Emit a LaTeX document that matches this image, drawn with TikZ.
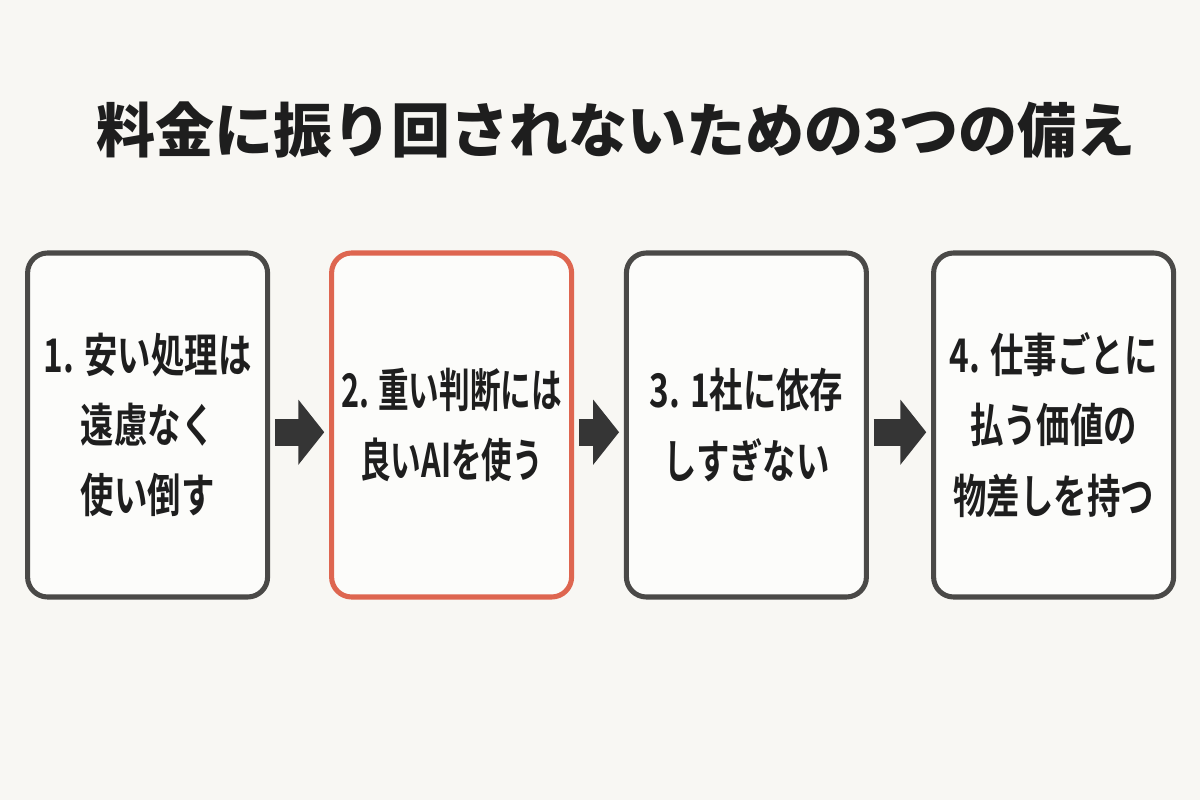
\documentclass[tikz,border=0pt]{standalone}
\usepackage{fontspec}
\usepackage{tikz}
\usepackage{xcolor}
\usetikzlibrary{arrows.meta}
\newfontfamily\titlefont{Noto Sans CJK JP}[UprightFont=* Black]
\newfontfamily\cardfont{Noto Sans CJK JP}[UprightFont=* Bold,FakeStretch=0.72]
\newfontfamily\hotfont{Noto Sans CJK JP}[UprightFont=* Bold,FakeStretch=0.66]
\definecolor{paper}{HTML}{F8F7F3}
\definecolor{frame}{HTML}{4A4947}
\definecolor{hot}{HTML}{DE6650}
\definecolor{ink}{HTML}{1E1E1E}

\begin{document}
\begin{tikzpicture}[
    card/.style={draw=frame,line width=3.6pt,rounded corners=0.5cm,fill=white!60!paper,
      minimum width=6.0cm,minimum height=8.6cm,inner xsep=0pt,align=center,text=ink,
      font=\cardfont\fontsize{33}{50}\selectfont},
    hotcard/.style={card,draw=hot,font=\hotfont\fontsize{33}{50}\selectfont},
    fatarrow/.style={draw=ink!90,line width=0.68cm,
      -{Triangle[length=0.65cm,width=1.6cm]},shorten <=0.12cm,shorten >=0.12cm}]
      \fill[paper] (0,0) rectangle (30,20);
      \useasboundingbox (0,0) rectangle (30,20);
      \node[text=ink,font=\titlefont\fontsize{42}{48}\selectfont] (title) at (15.4,16.75) {料金に振り回されないための3つの備え};
      \node[card] (box1) at (3.69,9.375) {1. 安い処理は\\遠慮なく\\使い倒す};
      \node[hotcard] (box2) at (11.29,9.375) {2. 重い判断には\\良いAIを使う};
      \node[card] (box3) at (18.66,9.375) {3. 1社に依存\\しすぎない};
      \node[card] (box4) at (26.34,9.375) {4. 仕事ごとに\\払う価値の\\物差しを持つ};
      \draw[fatarrow] ([yshift=-0.18cm]box1.east) -- ([yshift=-0.18cm]box2.west);
      \draw[fatarrow] ([yshift=-0.18cm]box2.east) -- ([yshift=-0.18cm]box3.west);
      \draw[fatarrow] ([yshift=-0.18cm]box3.east) -- ([yshift=-0.18cm]box4.west);
    \end{tikzpicture}
\end{document}
